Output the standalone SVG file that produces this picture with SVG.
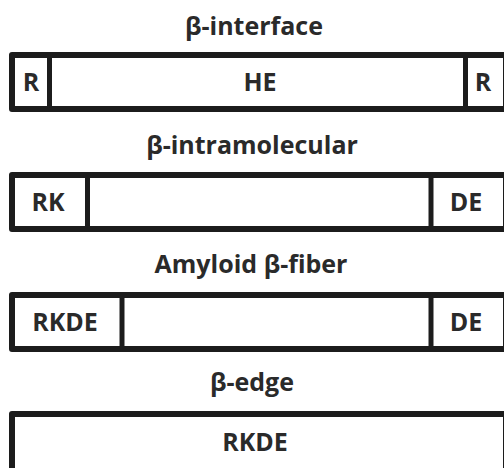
<svg xmlns="http://www.w3.org/2000/svg" width="504" height="468" viewBox="0 0 504 468">
<style>
.box{fill:#fff;stroke:#1c1c1c;stroke-width:6;stroke-linejoin:round}
.div{stroke:#1c1c1c;stroke-width:5}
.t{font-family:"Open Sans","Liberation Sans",sans-serif;font-weight:bold;font-size:25px;fill:#2a2a2a;text-anchor:middle}
</style>
<rect width="504" height="468" fill="#fff"/>
<g id="beta-interface">
<text class="t" x="254" y="35">β-interface</text>
<rect class="box" x="12" y="55" width="494" height="54"/>
<line class="div" x1="49.5" y1="55" x2="49.5" y2="109"/>
<line class="div" x1="465.5" y1="55" x2="465.5" y2="109"/>
<text class="t" x="31" y="91">R</text>
<text class="t" x="260" y="91">HE</text>
<text class="t" x="483" y="91">R</text>
</g>
<g id="beta-intramolecular">
<text class="t" x="252" y="154">β-intramolecular</text>
<rect class="box" x="12" y="175" width="494" height="54"/>
<line class="div" x1="87.5" y1="175" x2="87.5" y2="229"/>
<line class="div" x1="431" y1="175" x2="431" y2="229"/>
<text class="t" x="48" y="211">RK</text>
<text class="t" x="466" y="211">DE</text>
</g>
<g id="amyloid-beta-fiber">
<text class="t" x="251" y="273">Amyloid β-fiber</text>
<rect class="box" x="12" y="295" width="494" height="54"/>
<line class="div" x1="122" y1="295" x2="122" y2="349"/>
<line class="div" x1="431" y1="295" x2="431" y2="349"/>
<text class="t" x="65" y="331">RKDE</text>
<text class="t" x="466" y="331">DE</text>
</g>
<g id="beta-edge">
<text class="t" x="252" y="391">β-edge</text>
<rect class="box" x="12" y="414" width="494" height="60"/>
<text class="t" x="255" y="451">RKDE</text>
</g>
</svg>
